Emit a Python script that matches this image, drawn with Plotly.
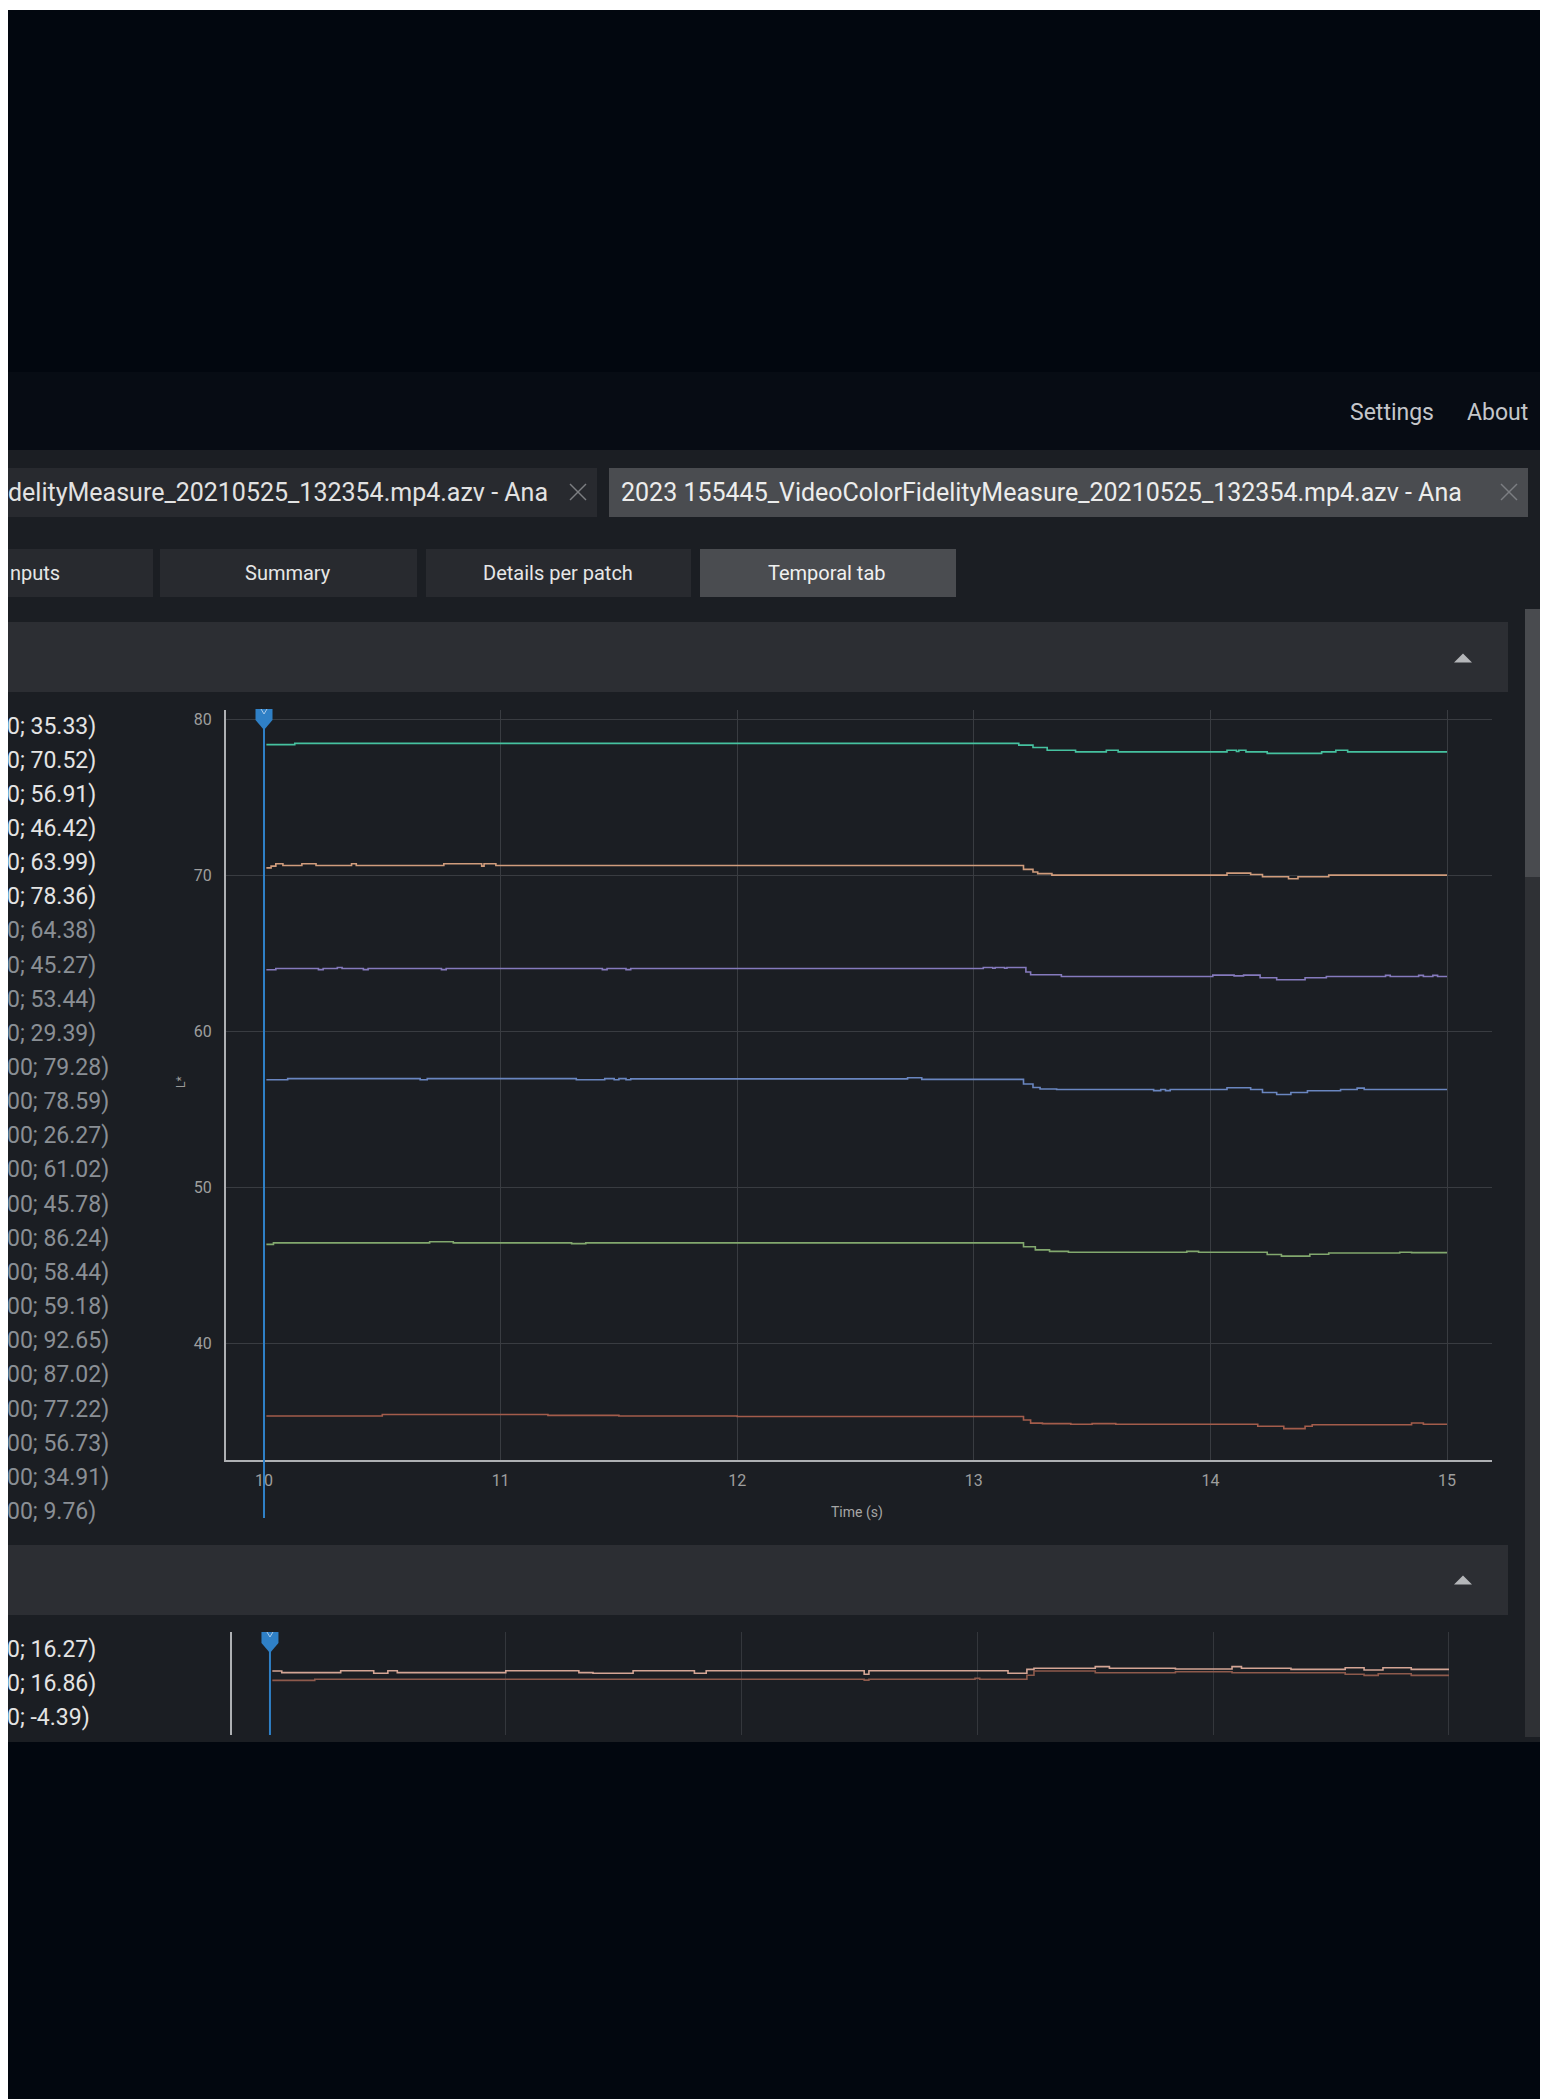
import plotly.graph_objects as go

# ---------------- data ----------------
time_ticks = [10, 11, 12, 13, 14, 15]
l_ticks = [40, 50, 60, 70, 80]

teal_t = [10.01, 10.13, 13.19, 13.25, 13.31, 13.43, 13.56, 13.61, 14.07, 14.11, 14.12, 14.15, 14.24, 14.47, 14.53, 14.58, 15.0]
teal_v = [78.36, 78.44, 78.33, 78.18, 78.0, 77.9, 78.0, 77.9, 78.0, 77.92, 78.0, 77.9, 77.8, 77.9, 78.0, 77.9, 77.9]

orange_t = [10.01, 10.03, 10.05, 10.08, 10.16, 10.22, 10.37, 10.39, 10.76, 10.92, 10.93, 10.98, 13.21, 13.25, 13.27, 13.33, 14.07, 14.17, 14.22, 14.33, 14.37, 14.50, 15.0]
orange_v = [70.47, 70.58, 70.73, 70.62, 70.73, 70.62, 70.73, 70.62, 70.73, 70.58, 70.73, 70.62, 70.37, 70.2, 70.1, 70.0, 70.13, 70.04, 69.9, 69.77, 69.9, 70.0, 70.0]

purple_t = [10.01, 10.05, 10.23, 10.25, 10.31, 10.33, 10.42, 10.44, 10.75, 10.77, 11.43, 11.45, 11.53, 11.55, 13.04, 13.08, 13.09, 13.13, 13.14, 13.22, 13.24, 13.37, 14.01, 14.10, 14.14, 14.21, 14.28, 14.40, 14.49, 14.74, 14.76, 14.88, 14.90, 14.94, 14.96, 15.0]
purple_v = [63.94, 64.02, 63.95, 64.02, 64.09, 64.02, 63.95, 64.02, 63.95, 64.02, 63.95, 64.02, 63.95, 64.02, 64.09, 64.04, 64.09, 64.04, 64.09, 63.80, 63.62, 63.51, 63.6, 63.55, 63.6, 63.43, 63.30, 63.43, 63.51, 63.58, 63.51, 63.58, 63.51, 63.58, 63.51, 63.51]

blue_t = [10.01, 10.10, 10.66, 10.69, 11.32, 11.44, 11.48, 11.50, 11.53, 11.55, 12.72, 12.78, 13.21, 13.25, 13.28, 13.35, 13.76, 13.79, 13.81, 13.83, 14.07, 14.17, 14.22, 14.28, 14.34, 14.41, 14.55, 14.62, 14.65, 15.0]
blue_v = [56.90, 56.97, 56.90, 56.97, 56.90, 56.97, 56.90, 56.97, 56.90, 56.95, 57.02, 56.92, 56.62, 56.40, 56.30, 56.27, 56.20, 56.27, 56.20, 56.27, 56.38, 56.27, 56.08, 55.95, 56.08, 56.19, 56.27, 56.36, 56.27, 56.27]

green_t = [10.01, 10.04, 10.70, 10.80, 11.30, 11.36, 13.21, 13.26, 13.32, 13.40, 13.90, 13.95, 14.24, 14.30, 14.42, 14.50, 14.80, 14.85, 15.0]
green_v = [46.35, 46.45, 46.52, 46.45, 46.40, 46.45, 46.20, 46.00, 45.90, 45.85, 45.90, 45.85, 45.70, 45.60, 45.72, 45.80, 45.85, 45.82, 45.82]

brown_t = [10.01, 10.50, 11.20, 11.50, 12.00, 13.21, 13.24, 13.29, 13.41, 13.50, 13.60, 14.20, 14.31, 14.40, 14.43, 14.85, 14.90, 15.0]
brown_v = [35.36, 35.45, 35.40, 35.36, 35.33, 35.10, 34.90, 34.87, 34.83, 34.87, 34.83, 34.70, 34.55, 34.70, 34.80, 34.91, 34.83, 34.83]

light_t = [10.01, 10.05, 10.30, 10.44, 10.50, 10.54, 11.00, 11.31, 11.37, 11.54, 11.80, 11.85, 12.52, 12.54, 13.13, 13.21, 13.24, 13.50, 13.56, 13.84, 14.08, 14.12, 14.33, 14.56, 14.64, 14.72, 14.84, 15.0]
light_v = [16.86, 16.74, 16.88, 16.69, 16.88, 16.74, 16.88, 16.74, 16.69, 16.88, 16.69, 16.88, 16.62, 16.88, 16.69, 16.98, 17.06, 17.18, 17.06, 17.01, 17.18, 17.06, 16.98, 17.10, 16.93, 17.10, 16.98, 16.98]

dark_t = [10.01, 10.19, 12.52, 12.54, 12.99, 13.01, 13.21, 13.24, 13.50, 13.84, 14.08, 14.56, 14.64, 14.70, 14.84, 15.0]
dark_v = [16.17, 16.25, 16.19, 16.25, 16.32, 16.25, 16.55, 16.86, 16.73, 16.81, 16.73, 16.62, 16.54, 16.66, 16.54, 16.54]

main_labels = ["0; 35.33)", "0; 70.52)", "0; 56.91)", "0; 46.42)", "0; 63.99)", "0; 78.36)",
               "0; 64.38)", "0; 45.27)", "0; 53.44)", "0; 29.39)", "00; 79.28)", "00; 78.59)",
               "00; 26.27)", "00; 61.02)", "00; 45.78)", "00; 86.24)", "00; 58.44)", "00; 59.18)",
               "00; 92.65)", "00; 87.02)", "00; 77.22)", "00; 56.73)", "00; 34.91)", "00; 9.76)"]
bottom_labels = ["0; 16.27)", "0; 16.86)", "0; -4.39)"]

tab_file_1 = "delityMeasure_20210525_132354.mp4.azv - Ana"
tab_file_2 = "2023 155445_VideoColorFidelityMeasure_20210525_132354.mp4.azv - Ana"
sub_tabs = ["nputs", "Summary", "Details per patch", "Temporal tab"]

# ---------------- page geometry helpers ----------------
W, H = 1548, 2099
OX, OY = 8, 8  # page offset of the figure


def PX(x):
    return (x - OX) / W


def PY(y):
    return 1 - (y - OY) / H


FONT = "Roboto"
BG = "#02070f"
PANEL = "#1b1e23"
TAB = "#282a2f"
TAB_ON = "#4a4c50"
BAR = "#2c2e33"
GRID = "#393c41"
AXIS = "#aeb0b3"
CURSOR = "#2f80c6"

fig = go.Figure()

main_series = [
    (brown_t, brown_v, "#a35c4b"),
    (orange_t, orange_v, "#d09c7c"),
    (blue_t, blue_v, "#6a86c0"),
    (green_t, green_v, "#82a86e"),
    (purple_t, purple_v, "#857abd"),
    (teal_t, teal_v, "#46c2a0"),
]
for t, v, c in main_series:
    fig.add_trace(go.Scatter(x=t, y=v, mode="lines", line=dict(shape="hv", color=c, width=1.6),
                             xaxis="x", yaxis="y", hoverinfo="skip", showlegend=False))

for t, v, c in [(dark_t, dark_v, "#8e5a4c"), (light_t, light_v, "#d4a595")]:
    fig.add_trace(go.Scatter(x=t, y=v, mode="lines", line=dict(shape="hv", color=c, width=1.6),
                             xaxis="x2", yaxis="y2", hoverinfo="skip", showlegend=False))

shapes = []


def rect(x0, y0, x1, y1, color):
    shapes.append(dict(type="rect", xref="paper", yref="paper", x0=PX(x0), x1=PX(x1),
                       y0=PY(y1), y1=PY(y0), fillcolor=color, line=dict(width=0), layer="below"))


def seg(x0, y0, x1, y1, color, w=1.5):
    shapes.append(dict(type="line", xref="paper", yref="paper", x0=PX(x0), x1=PX(x1),
                       y0=PY(y0), y1=PY(y1), line=dict(color=color, width=w), layer="above"))


def tri_up(cx, cy, color):
    path = "M {},{} L {},{} L {},{} Z".format(PX(cx - 9), PY(cy + 4.5), PX(cx + 9), PY(cy + 4.5),
                                             PX(cx), PY(cy - 4.5))
    shapes.append(dict(type="path", xref="paper", yref="paper", path=path, fillcolor=color,
                       line=dict(width=0), layer="above"))


# background regions
rect(0, 8, 1548, 10, "#ffffff")
rect(0, 372, 1548, 450, "#070c14")
rect(0, 450, 1548, 1742, PANEL)
rect(0, 468, 597, 517, TAB)
rect(609, 468, 1528, 517, TAB_ON)
rect(0, 549, 153, 597, TAB)
rect(160, 549, 417, 597, TAB)
rect(426, 549, 691, 597, TAB)
rect(700, 549, 956, 597, TAB_ON)
rect(0, 622, 1508, 692, BAR)
rect(0, 1545, 1508, 1615, BAR)
rect(1525, 609, 1546, 1737, "#2f3135")
rect(1525, 609, 1546, 877, "#494b4f")

# close marks on file tabs
for cx in (578, 1509):
    seg(cx - 8, 484, cx + 8, 500, "#7c7e82", 1.4)
    seg(cx - 8, 500, cx + 8, 484, "#7c7e82", 1.4)

tri_up(1463, 658, "#b4b6b9")
tri_up(1463, 1580, "#b4b6b9")

# cursors
marker_path = "M -8.5,0 L 8.5,0 L 8.5,-11 L 0,-21 L -8.5,-11 Z"
notch_path = "M -3,0 L 0,-5 L 3,0"
for xr, top, bot in (("x", 709, 1518), ("x2", 1632, 1735)):
    shapes.append(dict(type="line", xref=xr, yref="paper", x0=10, x1=10, y0=PY(bot), y1=PY(top + 16),
                       line=dict(color=CURSOR, width=2), layer="above"))
    shapes.append(dict(type="path", xref=xr, yref="paper", xsizemode="pixel", ysizemode="pixel",
                       xanchor=10, yanchor=PY(top), path=marker_path, fillcolor=CURSOR,
                       line=dict(width=0), layer="above"))
    shapes.append(dict(type="path", xref=xr, yref="paper", xsizemode="pixel", ysizemode="pixel",
                       xanchor=10, yanchor=PY(top), path=notch_path,
                       line=dict(color="#a9c9e8", width=1), layer="above"))

annotations = []


def text(x, y, s, size, color, anchor="left", angle=0):
    annotations.append(dict(x=PX(x), y=PY(y), xref="paper", yref="paper", text=s, showarrow=False,
                            xanchor=anchor, yanchor="middle", textangle=angle,
                            font=dict(family=FONT, size=size, color=color)))


text(1392, 412, "Settings", 23, "#c4c6ca", "center")
text(1497, 412, "About", 23, "#c4c6ca", "center")
text(6, 492, tab_file_1, 25, "#e2e2e2", "left")
text(619, 492, tab_file_2, 25, "#ececec", "left")
text(8, 573, sub_tabs[0], 20, "#e6e6e6", "left")
text(288, 573, sub_tabs[1], 20, "#e6e6e6", "center")
text(558, 573, sub_tabs[2], 20, "#e6e6e6", "center")
text(827, 573, sub_tabs[3], 20, "#f0f0f0", "center")

for i, s in enumerate(main_labels):
    col = "#e4e4e4" if i < 6 else "#8a8f95"
    text(5, 726 + i * 34.15, s, 23, col, "left")
for i, s in enumerate(bottom_labels):
    text(5, 1649 + i * 34, s, 23, "#e4e4e4", "left")

text(181, 1082, "L*", 12, "#9a9a9a", "center", -90)
text(857, 1512, "Time (s)", 14, "#a6a6a6", "center")

fig.update_layout(
    width=W, height=H,
    margin=dict(l=0, r=0, t=0, b=0, pad=0),
    paper_bgcolor=BG, plot_bgcolor="rgba(0,0,0,0)",
    hovermode=False, showlegend=False,
    shapes=shapes, annotations=annotations,
    xaxis=dict(domain=[PX(226), PX(1492)], range=[9.8394, 15.19], anchor="y",
               tickvals=time_ticks, showgrid=True, gridcolor=GRID, gridwidth=1, zeroline=False,
               showline=True, linecolor=AXIS, linewidth=2, ticks="", ticklabelstandoff=5,
               tickfont=dict(family=FONT, size=16, color="#9e9e9e")),
    yaxis=dict(domain=[PY(1460), PY(710)], range=[32.54, 80.58], anchor="x",
               tickvals=l_ticks, showgrid=True, gridcolor=GRID, gridwidth=1, zeroline=False,
               showline=True, linecolor=AXIS, linewidth=2, ticks="", ticklabelstandoff=9,
               tickfont=dict(family=FONT, size=16, color="#9e9e9e")),
    xaxis2=dict(domain=[PX(232), PX(1490)], range=[9.839, 15.174], anchor="y2",
                tickvals=time_ticks, showgrid=True, gridcolor="#34373c", gridwidth=1,
                zeroline=False, showline=False, showticklabels=False, ticks=""),
    yaxis2=dict(domain=[PY(1735), PY(1632)], range=[12.15, 19.73], anchor="x2",
                showgrid=False, zeroline=False, showline=True, linecolor=AXIS, linewidth=2,
                showticklabels=False, ticks=""),
)

fig.write_html("out.html", config={"displayModeBar": False})
